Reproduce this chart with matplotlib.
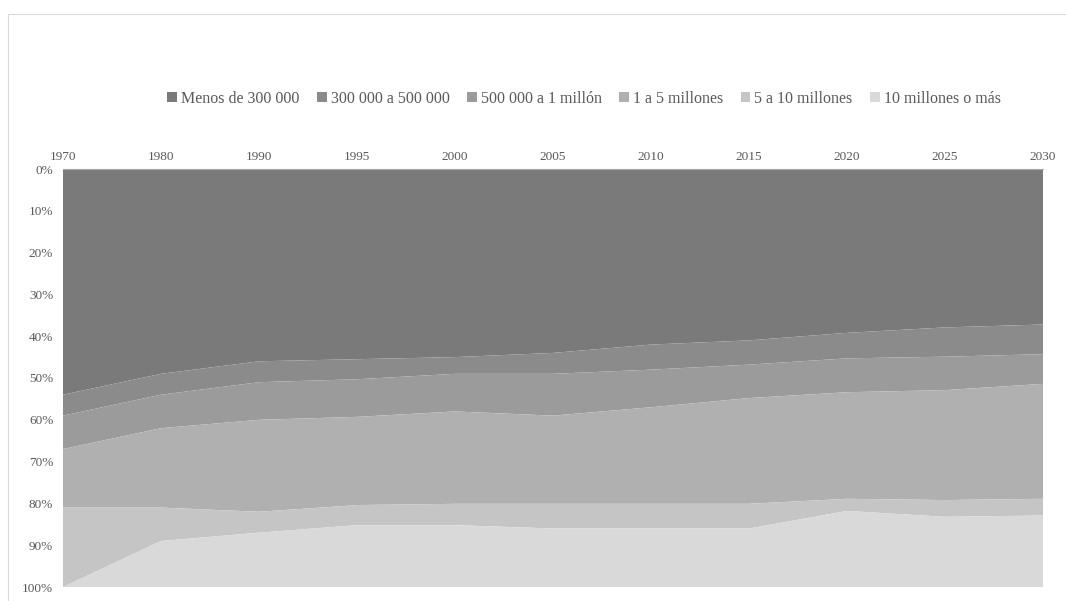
import matplotlib
matplotlib.use("Agg")
import matplotlib.pyplot as plt
from matplotlib.patches import Patch, Rectangle
import numpy as np

years = ["1970", "1980", "1990", "1995", "2000", "2005", "2010", "2015", "2020", "2025", "2030"]
series_names = ["Menos de 300 000", "300 000 a 500 000", "500 000 a 1 millón",
                "1 a 5 millones", "5 a 10 millones", "10 millones o más"]
menos_300k = [54.0, 49.0, 46.0, 45.5, 45.0, 44.0, 42.0, 41.0, 39.2, 37.9, 37.2]
de_300k_500k = [5.0, 5.0, 5.0, 4.8, 4.0, 5.0, 6.0, 5.8, 6.1, 7.0, 7.1]
de_500k_1m = [8.0, 8.0, 9.0, 9.0, 9.0, 10.0, 9.0, 8.0, 8.1, 8.0, 7.1]
de_1m_5m = [14.0, 19.0, 22.0, 21.1, 22.1, 21.1, 23.1, 25.3, 25.5, 26.3, 27.5]
de_5m_10m = [19.0, 8.0, 5.0, 4.8, 5.1, 5.9, 5.9, 5.9, 2.9, 4.0, 4.0]
mas_10m = [0.0, 11.0, 13.0, 14.8, 14.8, 14.0, 14.0, 14.0, 18.2, 16.8, 17.1]

colors = ["#7a7a7a", "#8b8b8b", "#9b9b9b", "#b0b0b0", "#c5c5c5", "#d9d9d9"]
text_color = "#595959"

plt.rcParams['font.family'] = ['Liberation Serif', 'DejaVu Serif']

fig = plt.figure(figsize=(10.66, 6.01), dpi=100)
W, H = 1066, 601
ax = fig.add_axes([63 / W, 1 - 587 / H, (1043 - 63) / W, (587 - 169) / H])

data = np.array([menos_300k, de_300k_500k, de_500k_1m, de_1m_5m, de_5m_10m, mas_10m])
totals = data.sum(axis=0)
shares = data / totals
x = np.arange(len(years))
ax.stackplot(x, shares, colors=colors, linewidth=0)

ax.set_xlim(0, len(years) - 1)
ax.set_ylim(1, 0)
ax.xaxis.tick_top()
ax.set_xticks(x)
ax.set_xticklabels(years)
ax.set_yticks(np.linspace(0, 1, 11))
ax.set_yticklabels([f"{int(round(v * 100))}%" for v in np.linspace(0, 1, 11)])
ax.tick_params(axis='both', length=0, colors=text_color)
ax.tick_params(axis='x', pad=4, labelsize=9.5)
ax.tick_params(axis='y', pad=7, labelsize=9.5)
for s in ["left", "right", "bottom"]:
    ax.spines[s].set_visible(False)
ax.spines["top"].set_color("#a6a6a6")
ax.spines["top"].set_linewidth(0.8)

handles = [Patch(facecolor=c, edgecolor='none') for c in colors]
fig.legend(handles, series_names, loc='center', bbox_to_anchor=(584 / W, 1 - 99 / H),
           ncol=6, frameon=False, fontsize=11.5, handlelength=0.6, handleheight=0.6,
           handletextpad=0.25, columnspacing=1.1, labelcolor=text_color)

fig.patches.append(Rectangle((8 / W, -0.05), 1.1, 1 - 14 / H + 0.05, transform=fig.transFigure,
                             fill=False, edgecolor="#d9d9d9", linewidth=0.8))

fig.savefig("out.png", dpi=100)
